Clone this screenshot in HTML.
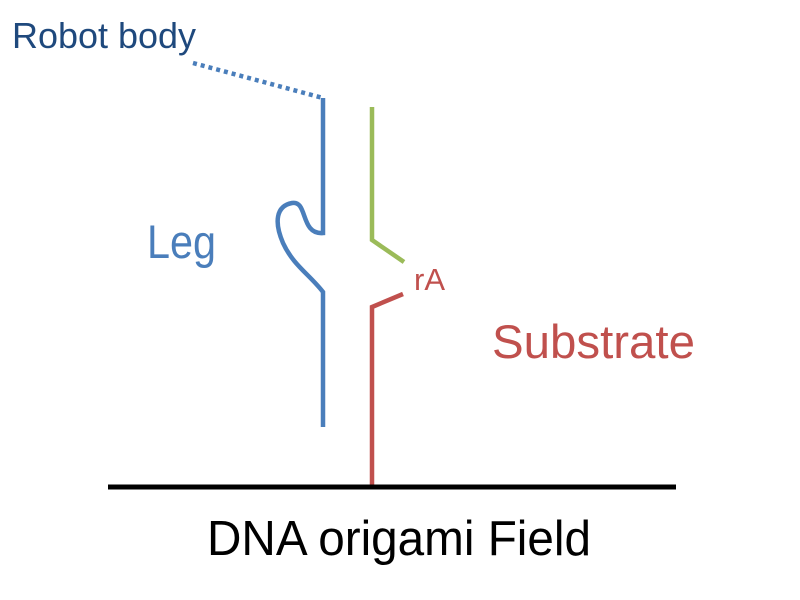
<!DOCTYPE html>
<html><head><meta charset="utf-8"><style>html,body{margin:0;padding:0;background:#fff}svg{display:block}</style></head>
<body>
<svg width="800" height="600" viewBox="0 0 800 600" xmlns="http://www.w3.org/2000/svg" font-family="Liberation Sans, sans-serif">
<line x1="193" y1="63" x2="323" y2="98" stroke="#4a7ebb" stroke-width="4.5" stroke-dasharray="4 4"/>
<path d="M323 98 V233 C300 235 308 200 292 203 C276 206 274 222 283 243 C293 265 310 275 323 292 V427" fill="none" stroke="#4a7ebb" stroke-width="4.5"/>
<polyline points="372,107 372,240 404,262" fill="none" stroke="#9bbb59" stroke-width="4.5"/>
<polyline points="403,294 372,307 372,487" fill="none" stroke="#c0504d" stroke-width="4.5"/>
<line x1="108" y1="487" x2="676" y2="487" stroke="#000" stroke-width="5"/>
<text x="12" y="48" font-size="36" fill="#1f497d" textLength="184" lengthAdjust="spacingAndGlyphs">Robot body</text>
<text x="147" y="258" font-size="47" fill="#4a7ebb" textLength="69" lengthAdjust="spacingAndGlyphs">Leg</text>
<text x="414" y="290" font-size="31" fill="#c0504d" textLength="31" lengthAdjust="spacingAndGlyphs">rA</text>
<text x="492" y="358" font-size="47" fill="#c0504d" textLength="203" lengthAdjust="spacingAndGlyphs">Substrate</text>
<text x="207" y="555" font-size="49" fill="#000" textLength="384" lengthAdjust="spacingAndGlyphs">DNA origami Field</text>
</svg>
</body></html>
